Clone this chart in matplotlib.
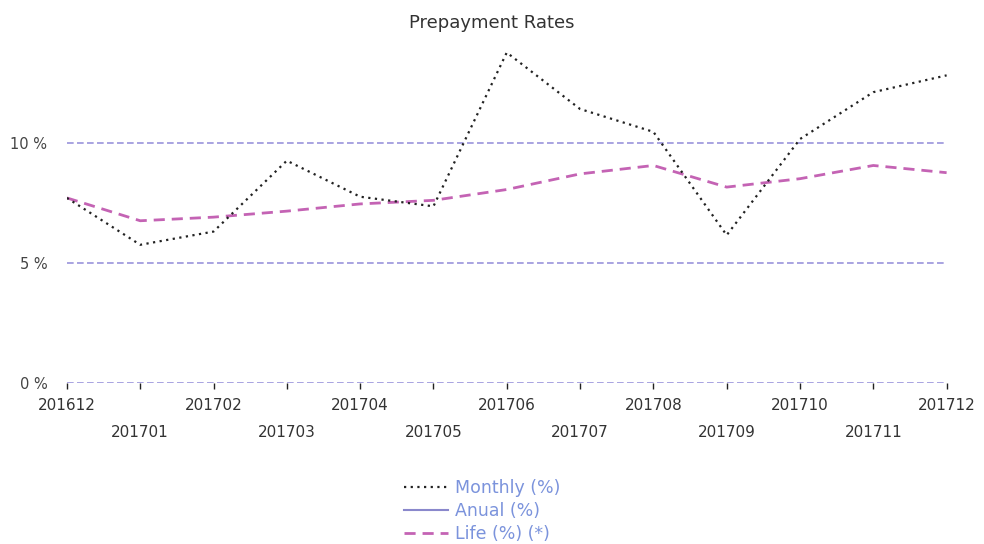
import numpy as np
import matplotlib
matplotlib.use("Agg")
import matplotlib.pyplot as plt

periods = ["201612", "201701", "201702", "201703", "201704", "201705", "201706",
           "201707", "201708", "201709", "201710", "201711", "201712"]
monthly = [7.7, 5.75, 6.3, 9.25, 7.75, 7.35, 13.75, 11.4, 10.45, 6.15, 10.15, 12.1, 12.8]
anual = [np.nan] * 13
life = [7.7, 6.75, 6.9, 7.15, 7.45, 7.6, 8.05, 8.7, 9.05, 8.15, 8.5, 9.05, 8.75]
yticks = [0, 5, 10]

fig = plt.figure(figsize=(9.84, 5.44), dpi=100)
ax = fig.add_axes([0.068, 0.296, 0.894, 0.645])
x = np.arange(len(periods))

for yt in yticks:
    ax.axhline(yt, color="#9a94dc", lw=1.2, ls=(0, (4, 2)), zorder=1)

l1, = ax.plot(x, monthly, color="#222222", lw=1.6, ls=(0, (1, 2)), zorder=3, label="Monthly (%)")
l2, = ax.plot(x, anual, color="#8a88cc", lw=1.5, ls="-", zorder=2, label="Anual (%)")
l3, = ax.plot(x, life, color="#c463b4", lw=2.0, ls=(0, (4, 2.5)), zorder=2, label="Life (%) (*)")

ax.set_xlim(0, 12)
ax.set_ylim(0, 14.6)
for s in ax.spines.values():
    s.set_visible(False)
ax.set_yticks(yticks)
ax.set_yticklabels([f"{v} %" for v in yticks], fontsize=10.5, color="#444444")
ax.tick_params(axis="y", length=0, pad=14)
ax.set_xticks(x)
ax.set_xticklabels([p if i % 2 == 0 else "\n\n" + p for i, p in enumerate(periods)],
                   fontsize=11, color="#333333", linespacing=0.85)
ax.tick_params(axis="x", length=4, width=1, color="#222222", pad=7, direction="out")
for lab in ax.get_xticklabels():
    lab.set_verticalalignment("top")

fig.text(0.5, 0.958, "Prepayment Rates", ha="center", va="center", fontsize=13, color="#333333")

leg = fig.legend(handles=[l1, l2, l3], loc="center", bbox_to_anchor=(0.49, 0.061),
                 frameon=False, fontsize=12.5, handlelength=2.5, labelspacing=0.3,
                 handletextpad=0.4, borderpad=0)
for t in leg.get_texts():
    t.set_color("#7b93dc")

fig.savefig("out.png", dpi=100)
